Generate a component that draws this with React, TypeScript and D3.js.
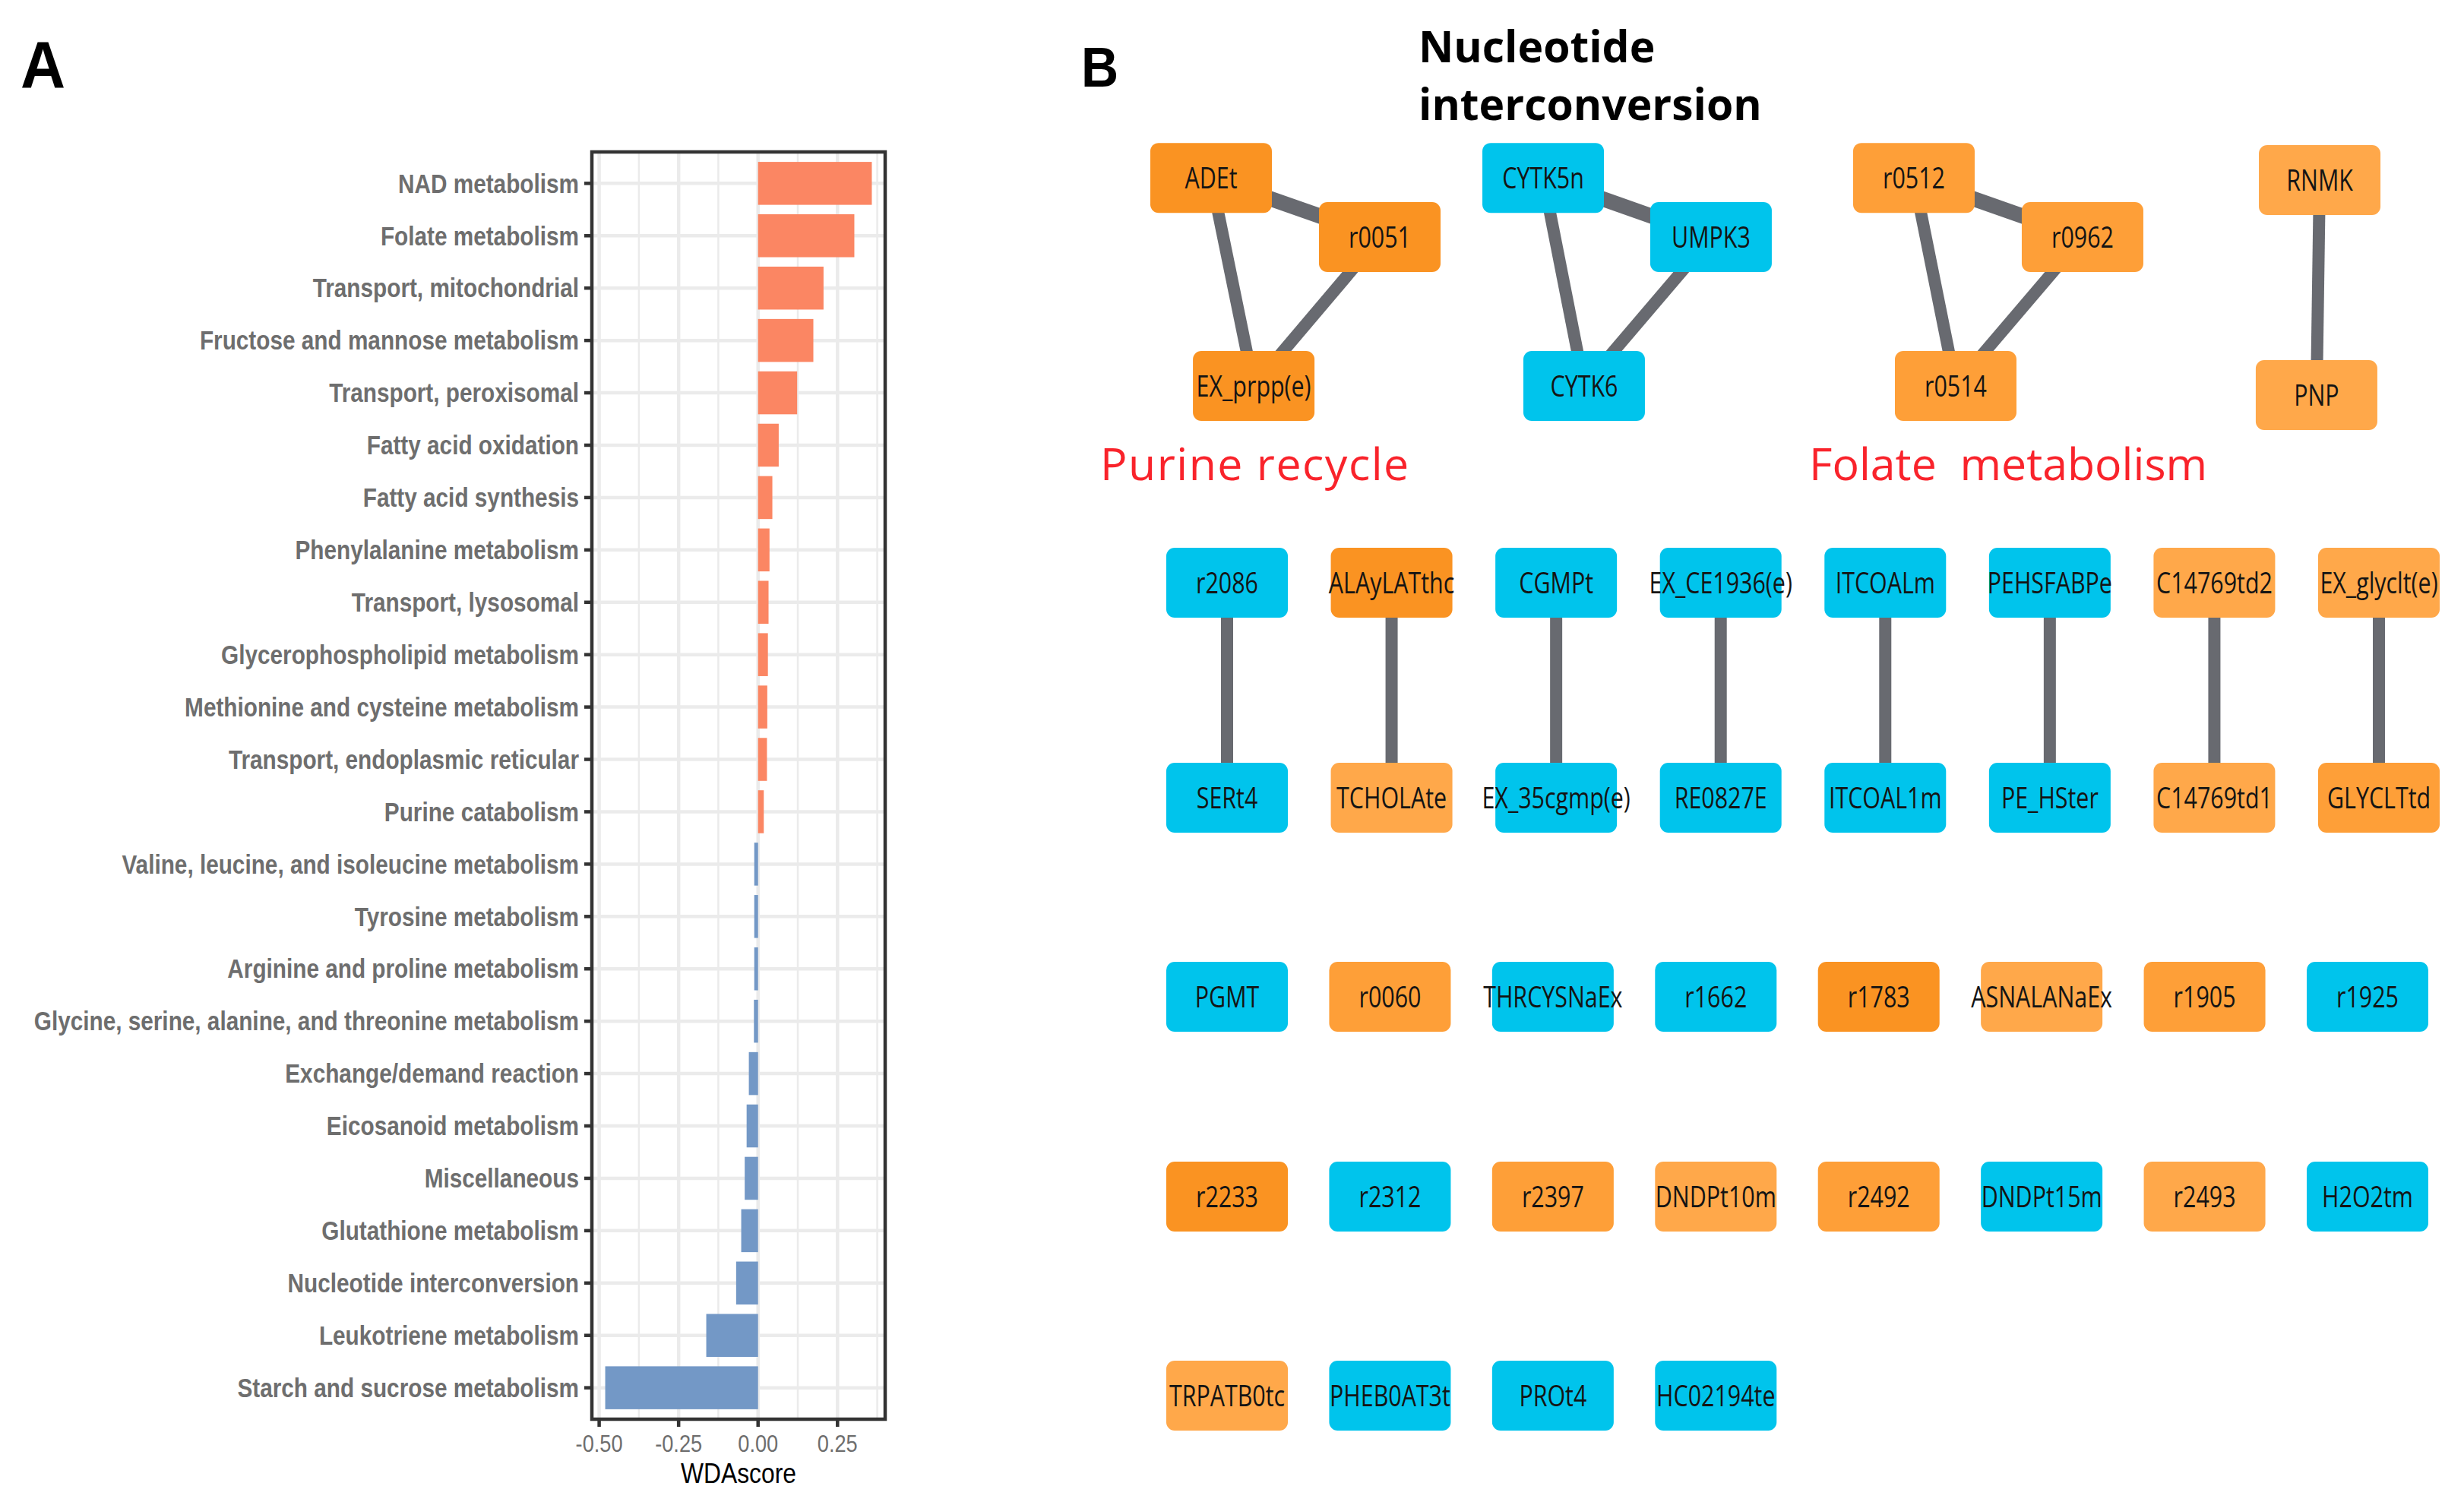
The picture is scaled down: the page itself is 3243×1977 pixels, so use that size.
import React from 'react';
import * as d3 from 'd3';

// ---------------- Panel A data ----------------
const categories = [
  'NAD metabolism',
  'Folate metabolism',
  'Transport, mitochondrial',
  'Fructose and mannose metabolism',
  'Transport, peroxisomal',
  'Fatty acid oxidation',
  'Fatty acid synthesis',
  'Phenylalanine metabolism',
  'Transport, lysosomal',
  'Glycerophospholipid metabolism',
  'Methionine and cysteine metabolism',
  'Transport, endoplasmic reticular',
  'Purine catabolism',
  'Valine, leucine, and isoleucine metabolism',
  'Tyrosine metabolism',
  'Arginine and proline metabolism',
  'Glycine, serine, alanine, and threonine metabolism',
  'Exchange/demand reaction',
  'Eicosanoid metabolism',
  'Miscellaneous',
  'Glutathione metabolism',
  'Nucleotide interconversion',
  'Leukotriene metabolism',
  'Starch and sucrose metabolism',
];
const wdaScores = [
  0.358, 0.303, 0.206, 0.174, 0.123, 0.065, 0.045, 0.036, 0.033, 0.031, 0.029, 0.028,
  0.018, -0.012, -0.012, -0.012, -0.013, -0.029, -0.036, -0.042, -0.053, -0.069, -0.163, -0.481,
];
const xTicks = [-0.5, -0.25, 0, 0.25];
const xMinorTicks = [-0.375, -0.125, 0.125, 0.375];
const xTickLabels = ['-0.50', '-0.25', '0.00', '0.25'];

// ---------------- Panel B data ----------------
// connected clusters (layout in grid units)
const clusterNames = ['ADEt', 'r0051', 'EX_prpp(e)', 'CYTK5n', 'UMPK3', 'CYTK6', 'r0512', 'r0962', 'r0514', 'RNMK', 'PNP'];
const clusterTypes = ['d', 'd', 'd', 'c', 'c', 'c', 'm', 'm', 'm', 'l', 'l'];
const clusterCol = [-0.097, 0.928, 0.162, 1.921, 2.941, 2.17, 4.174, 5.199, 4.428, 6.64, 6.621];
const clusterRow = [-2.03, -1.733, -0.987, -2.03, -1.733, -0.987, -2.03, -1.733, -0.987, -2.019, -0.941];
const clusterEdges = [[0, 1], [0, 2], [1, 2], [3, 4], [3, 5], [4, 5], [6, 7], [6, 8], [7, 8], [9, 10]];
const clusterEdgeWeight = [2, 1, 1, 2, 1, 1, 2, 1, 1, 1];

// pairs
const pairTop = ['r2086', 'ALAyLATthc', 'CGMPt', 'EX_CE1936(e)', 'ITCOALm', 'PEHSFABPe', 'C14769td2', 'EX_glyclt(e)'];
const pairTopTypes = ['c', 'd', 'c', 'c', 'c', 'c', 'l', 'l'];
const pairBottom = ['SERt4', 'TCHOLAte', 'EX_35cgmp(e)', 'RE0827E', 'ITCOAL1m', 'PE_HSter', 'C14769td1', 'GLYCLTtd'];
const pairBottomTypes = ['c', 'l', 'c', 'c', 'c', 'c', 'l', 'm'];

// unconnected nodes
const singleRows = [
  ['PGMT', 'r0060', 'THRCYSNaEx', 'r1662', 'r1783', 'ASNALANaEx', 'r1905', 'r1925'],
  ['r2233', 'r2312', 'r2397', 'DNDPt10m', 'r2492', 'DNDPt15m', 'r2493', 'H2O2tm'],
  ['TRPATB0tc', 'PHEB0AT3t', 'PROt4', 'HC02194te'],
];
const singleTypes = [
  ['c', 'm', 'c', 'c', 'd', 'l', 'm', 'c'],
  ['d', 'c', 'm', 'l', 'm', 'c', 'l', 'c'],
  ['l', 'c', 'c', 'c'],
];
const gridRowUnits = [0, 1.078, 2.076, 3.078, 4.076];

const nodeFill: Record<string, string> = {
  d: '#FA9322',
  m: '#FE9F38',
  l: '#FFA84A',
  c: '#00C4EC',
};

function SText(props: any) {
  const { x, y, sx = 1, anchor = 'start', children, ...rest } = props;
  return (
    <text transform={`translate(${x},${y}) scale(${sx},1)`} textAnchor={anchor} {...rest}>
      {children}
    </text>
  );
}

export default function App() {
  const W = 3243;
  const H = 1977;

  // ---- Panel A scales ----
  const left = 779, right = 1165, top = 200, bottom = 1868;
  const dMin = Math.min(0, d3.min(wdaScores)!);
  const dMax = Math.max(0, d3.max(wdaScores)!);
  const pad = (dMax - dMin) * 0.05;
  const x = d3.scaleLinear().domain([dMin - pad, dMax + pad]).range([left, right]);
  const y = d3.scalePoint<string>().domain(categories).range([top, bottom]).padding(0.6);
  const barH = y.step() * 0.82;
  const fontA = 'Liberation Sans, Arial, sans-serif';

  // ---- Panel B scales ----
  const xNet = d3.scaleLinear().domain([0, 7]).range([1615, 3131]);
  const xSingle = d3.scaleLinear().domain([0, 7]).range([1615, 3116]);
  const yNet = d3.scaleLinear().domain([0, 1]).range([767, 1029.5]);
  const edgeW = d3.scaleLinear().domain([1, 2]).range([16, 20]);
  const nodeW = 160, nodeH = 92;
  const fontB = 'Open Sans, Noto Sans, sans-serif';

  const renderNode = (name: string, type: string, cx: number, cy: number, key: string) => (
    <g key={key}>
      <rect x={cx - nodeW / 2} y={cy - nodeH / 2} width={nodeW} height={nodeH} rx={11} ry={11} fill={nodeFill[type]} />
      <SText x={cx} y={cy} sx={0.8} anchor="middle" dy="0.36em" fontFamily={fontB} fontSize={38} fill="#141414">
        {name}
      </SText>
    </g>
  );

  return (
    <svg width={W} height={H} viewBox={`0 0 ${W} ${H}`} style={{ position: 'absolute', left: 0, top: 0, background: '#fff' }}>
      <rect x={0} y={0} width={W} height={H} fill="#ffffff" />

      {/* ===== Panel A ===== */}
      <SText x={27} y={115} sx={0.93} fontFamily={fontA} fontWeight="bold" fontSize={88} fill="#000">A</SText>
      <g>
        {/* grid */}
        {xMinorTicks.map((t) => (
          <line key={'mn' + t} x1={x(t)} x2={x(t)} y1={top} y2={bottom} stroke="#EBEBEB" strokeWidth={2.5} />
        ))}
        {xTicks.map((t) => (
          <line key={'mj' + t} x1={x(t)} x2={x(t)} y1={top} y2={bottom} stroke="#EBEBEB" strokeWidth={4.5} />
        ))}
        {categories.map((c) => (
          <line key={'hg' + c} x1={left} x2={right} y1={y(c)} y2={y(c)} stroke="#EBEBEB" strokeWidth={4.5} />
        ))}
        {/* bars */}
        {categories.map((c, i) => {
          const v = wdaScores[i];
          return (
            <rect
              key={'b' + c}
              x={Math.min(x(0), x(v))}
              y={y(c)! - barH / 2}
              width={Math.abs(x(v) - x(0))}
              height={barH}
              fill={v >= 0 ? '#FB8663' : '#7398C6'}
            />
          );
        })}
        {/* border */}
        <rect x={left} y={top} width={right - left} height={bottom - top} fill="none" stroke="#333333" strokeWidth={4.5} />
        {/* y ticks + labels */}
        {categories.map((c) => (
          <g key={'yl' + c}>
            <line x1={left - 10} x2={left} y1={y(c)} y2={y(c)} stroke="#333333" strokeWidth={4.5} />
            <SText x={762} y={y(c)} sx={0.85} anchor="end" dy="0.35em" fontFamily={fontA} fontWeight="bold" fontSize={35} fill="#6E6E6E">
              {c}
            </SText>
          </g>
        ))}
        {/* x ticks + labels */}
        {xTicks.map((t, i) => (
          <g key={'xt' + t}>
            <line x1={x(t)} x2={x(t)} y1={bottom} y2={bottom + 10} stroke="#333333" strokeWidth={4.5} />
            <SText x={x(t)} y={1911} sx={0.85} anchor="middle" fontFamily={fontA} fontSize={32} fill="#6E6E6E">
              {xTickLabels[i]}
            </SText>
          </g>
        ))}
        <SText x={(left + right) / 2} y={1952} sx={0.86} anchor="middle" fontFamily={fontA} fontSize={37} fill="#000">
          WDAscore
        </SText>
      </g>

      {/* ===== Panel B ===== */}
      <SText x={1423} y={114} sx={0.92} fontFamily={fontA} fontWeight="bold" fontSize={74} fill="#000">B</SText>
      <text x={1867} y={82} fontFamily={fontB} fontWeight={700} fontSize={57} fill="#000">Nucleotide</text>
      <text x={1867} y={158} fontFamily={fontB} fontWeight={700} fontSize={57} fill="#000">interconversion</text>

      {/* cluster edges */}
      {clusterEdges.map(([s, t], i) => (
        <line
          key={'ce' + i}
          x1={xNet(clusterCol[s])}
          y1={yNet(clusterRow[s])}
          x2={xNet(clusterCol[t])}
          y2={yNet(clusterRow[t])}
          stroke="#686A70"
          strokeWidth={edgeW(clusterEdgeWeight[i])}
        />
      ))}
      {/* pair edges */}
      {pairTop.map((n, i) => (
        <line
          key={'pe' + n}
          x1={xNet(i)}
          x2={xNet(i)}
          y1={yNet(gridRowUnits[0])}
          y2={yNet(gridRowUnits[1])}
          stroke="#686A70"
          strokeWidth={edgeW(1)}
        />
      ))}

      {/* cluster nodes */}
      {clusterNames.map((n, i) => renderNode(n, clusterTypes[i], xNet(clusterCol[i]), yNet(clusterRow[i]), 'cn' + n))}
      {/* pair nodes */}
      {pairTop.map((n, i) => renderNode(n, pairTopTypes[i], xNet(i), yNet(gridRowUnits[0]), 'pt' + n))}
      {pairBottom.map((n, i) => renderNode(n, pairBottomTypes[i], xNet(i), yNet(gridRowUnits[1]), 'pb' + n))}
      {/* single nodes */}
      {singleRows.map((row, r) =>
        row.map((n, i) => renderNode(n, singleTypes[r][i], xSingle(i), yNet(gridRowUnits[r + 2]), 'sn' + n))
      )}

      {/* red group labels */}
      <text x={1448} y={632} fontFamily={fontB} fontSize={59} fill="#F9232B" letterSpacing={1.5}>Purine recycle</text>
      <text x={2381} y={632} fontFamily={fontB} fontSize={59} fill="#F9232B" style={{ whiteSpace: 'pre' }}>
        {'Folate  metabolism'}
      </text>
    </svg>
  );
}
